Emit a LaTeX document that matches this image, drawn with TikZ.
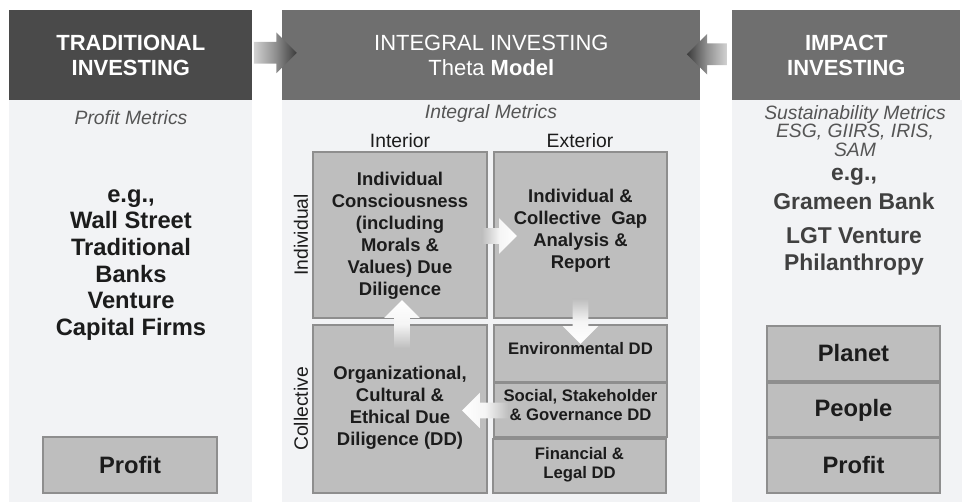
\documentclass[tikz,border=0pt]{standalone}
\usepackage{fontspec}
\setmainfont{Liberation Sans}
\usetikzlibrary{shapes.arrows,calc}
\definecolor{headdark}{HTML}{4A4A4A}
\definecolor{headmid}{HTML}{6F6F6F}
\definecolor{bodygray}{HTML}{F2F3F5}
\definecolor{boxgray}{HTML}{BEBEBE}
\definecolor{boxline}{HTML}{8E8E8E}
\definecolor{metricgray}{HTML}{555555}
\definecolor{textdark}{HTML}{1C1C1C}
\definecolor{egtext}{HTML}{404040}
\tikzset{
    panel/.style = {fill = bodygray, inner sep = 0pt, anchor = north west, minimum height = 8.04cm},
    header/.style = {inner sep = 0pt, anchor = north west, text = white, align = center,
        minimum height = 1.8cm, font = \fontsize{12.5}{14.2}\selectfont},
    metric/.style = {text = metricgray, align = center, font = \fontsize{11}{10.5}\selectfont\itshape},
    ddbox/.style = {draw = boxline, line width = 0.9pt, fill = boxgray, inner sep = 0pt},
    ddtext/.style = {text = textdark, align = center, font = \fontsize{10.5}{12.5}\selectfont\bfseries},
    smalltext/.style = {text = textdark, align = center, font = \fontsize{9.5}{10.8}\selectfont\bfseries},
    bigtext/.style = {text = textdark, align = center, font = \fontsize{13.5}{15.2}\selectfont\bfseries},
    axislabel/.style = {text = textdark, font = \fontsize{11}{13}\selectfont},
    grayarrow/.style = {single arrow, inner xsep = 0pt, inner ysep = 0.21cm,
        single arrow head extend = 0.19cm, single arrow tip angle = 90},
    whitearrow/.style = {single arrow, inner xsep = 0pt, inner ysep = 0.15cm,
        single arrow head extend = 0.2cm, single arrow tip angle = 90},
    uparrow/.style = {whitearrow, inner xsep = 0.15cm, inner ysep = 0pt}
}
\begin{document}
\begin{tikzpicture}[x = 0.02cm, y = -0.02cm]
    \useasboundingbox (0,0) rectangle (967,503);
    \node[panel, minimum width = 4.86cm] (tradbody) at (9,100) {};
    \node[panel, minimum width = 8.36cm] (integbody) at (282,100) {};
    \node[panel, minimum width = 4.6cm] (impactbody) at (732,100) {};
    \node[header, fill = headdark, minimum width = 4.86cm] (tradhead) at (9,10) {\bfseries TRADITIONAL\\\bfseries INVESTING};
    \node[header, fill = headmid, minimum width = 8.36cm] (integhead) at (282,10) {INTEGRAL INVESTING\\Theta \textbf{Model}};
    \node[header, fill = headmid, minimum width = 4.56cm] (impacthead) at (732,10) {\bfseries IMPACT\\\bfseries INVESTING};

    \node[grayarrow, minimum height = 0.86cm, left color = boxgray!70!white, right color = headdark!80!black, middle color = boxgray!60!headdark]
        at ($(tradhead.east)!0.5!(integhead.west) + (0.05cm,0.05cm)$) {};
    \node[grayarrow, shape border rotate = 180, minimum height = 0.8cm, left color = headdark!80!black, right color = boxgray!70!white, middle color = boxgray!60!headdark]
        at ($(integhead.east)!0.5!(impacthead.west) + (-0.08cm,0.02cm)$) {};

    \node[metric] (profitmetrics) at (131,118) {Profit Metrics};
    \node[bigtext] (tradeg) at (131,265) {e.g.,\\Wall Street\\Traditional\\Banks\\Venture\\Capital Firms};
    \node[ddbox, minimum width = 3.48cm, minimum height = 1.12cm] (tradprofit) at (130,465) {};
    \node[bigtext] at (tradprofit) {Profit};

    \node[metric] (integmetrics) at (491,114) {Integral Metrics};
    \node[axislabel] (interior) at (400,141) {Interior};
    \node[axislabel] (exterior) at (580,141) {Exterior};
    \node[ddbox, minimum width = 3.48cm, minimum height = 3.32cm] (iq) at (400,235) {};
    \node[ddbox, minimum width = 3.46cm, minimum height = 3.32cm] (eq) at (580.5,235) {};
    \node[ddbox, minimum width = 3.48cm, minimum height = 3.36cm] (cq) at (400,409) {};
    \node[ddbox, minimum width = 3.46cm, minimum height = 1.14cm] (env) at (580.5,353.5) {};
    \node[ddbox, minimum width = 3.46cm, minimum height = 1.08cm] (soc) at (580.5,410) {};
    \node[ddbox, minimum width = 3.46cm, minimum height = 1.08cm] (fin) at (579.5,466) {};
    \node[axislabel, rotate = 90] (individual) at (301,235) {Individual};
    \node[axislabel, rotate = 90] (collective) at (301,409) {Collective};
    \node[ddtext] at (400,236) {Individual\\Consciousness\\(including\\Morals \&\\Values) Due\\Diligence};
    \node[ddtext] at (580.5,231) {Individual \&\\Collective\ \ Gap\\Analysis \&\\Report};
    \node[ddtext] at (400,408) {Organizational,\\Cultural \&\\Ethical Due\\Diligence (DD)};
    \node[smalltext] at (580.5,349) {Environmental DD};
    \node[smalltext] at (580.5,405.5) {Social, Stakeholder\\\& Governance DD};
    \node[smalltext] at (579.5,464.5) {Financial \&\\Legal DD};

    \node[whitearrow, minimum height = 0.7cm, left color = boxgray, right color = white, middle color = white!85!boxgray]
        at ($(iq.east)!0.5!(eq.west) + (0.1cm,-0.02cm)$) {};
    \node[uparrow, shape border rotate = 270, minimum height = 0.9cm, top color = boxgray, bottom color = white, middle color = white!85!boxgray]
        at ($(eq.south)!0.5!(env.north) + (0,0.08cm)$) {};
    \node[uparrow, shape border rotate = 90, minimum height = 0.96cm, bottom color = boxgray, top color = white, middle color = white!85!boxgray]
        at ($(iq.south)!0.5!(cq.north) + (0.04cm,-0.13cm)$) {};
    \node[whitearrow, shape border rotate = 180, minimum height = 0.92cm, right color = boxgray, left color = white, middle color = white!85!boxgray]
        at ($(soc.west)!0.5!(cq.east) + (-0.03cm,-0.02cm)$) {};

    \node[metric] (impactmetrics) at (855,131) {Sustainability Metrics\\ESG, GIIRS, IRIS,\\SAM};
    \node[bigtext, text = egtext, font = \fontsize{13}{15.5}\selectfont\bfseries] (impacteg) at (854,222)
        {e.g.,\\[1pt]Grameen Bank\\[3.8pt]LGT Venture\\Philanthropy};
    \node[ddbox, minimum width = 3.46cm, minimum height = 1.1cm] (planet) at (853.5,353.5) {};
    \node[ddbox, minimum width = 3.46cm, minimum height = 1.08cm] (people) at (853.5,410) {};
    \node[ddbox, minimum width = 3.46cm, minimum height = 1.1cm] (impactprofit) at (853.5,465.5) {};
    \node[bigtext] at (planet) {Planet};
    \node[bigtext] at (people) {People};
    \node[bigtext] at (impactprofit) {Profit};
\end{tikzpicture}
\end{document}
